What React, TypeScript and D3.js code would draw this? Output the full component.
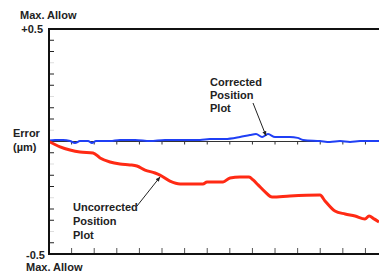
import React from 'react';
import * as d3 from 'd3';

// Position (x in tick units) vs error (µm)
const uncorrected: [number, number][] = [
  [0, 0], [0.49, -0.024], [0.93, -0.038], [1.37, -0.047], [1.95, -0.051],
  [2.26, -0.073], [2.7, -0.091], [3.14, -0.1], [3.58, -0.104], [3.89, -0.109],
  [4.25, -0.127], [4.69, -0.14], [4.91, -0.149], [5.35, -0.176], [5.8, -0.189],
  [6.46, -0.189], [6.81, -0.189], [6.99, -0.18], [7.7, -0.18], [8.01, -0.162],
  [8.45, -0.158], [8.85, -0.158], [9.03, -0.171], [9.25, -0.193], [9.56, -0.224],
  [9.87, -0.247], [10.66, -0.242], [11.99, -0.238], [12.21, -0.264], [12.65, -0.309],
  [13.1, -0.322], [13.54, -0.331], [13.98, -0.344], [14.16, -0.331], [14.38, -0.344],
  [14.6, -0.358],
];

const corrected: [number, number][] = [
  [0, 0.004], [0.27, 0.007], [0.62, 0.007], [0.93, 0.002], [1.15, -0.007],
  [1.37, 0.002], [1.73, 0.002], [1.9, -0.007], [2.08, 0.002], [2.7, 0.002],
  [3.14, 0.007], [3.81, 0.007], [4.47, 0.002], [5.13, 0.007], [5.8, 0.007],
  [6.68, 0.007], [7.12, 0.011], [7.79, 0.011], [8.45, 0.02], [8.89, 0.029],
  [9.16, 0.033], [9.43, 0.02], [9.69, 0.033], [10.0, 0.02], [10.66, 0.02],
  [11.0, 0.016], [11.24, 0.007], [11.99, 0.002], [12.43, -0.002], [12.88, 0.002],
  [13.32, -0.002], [13.76, 0.002], [14.6, 0.002],
];

const xTicks = d3.range(1, 15);
const yTicks = d3.range(-0.45, 0.46, 0.05).map(v => +v.toFixed(2)).filter(v => v !== 0);
const faintTicks = [0.35, 0.2, 0.05, -0.1, -0.25, -0.4];

const W = 379;
const H = 273;
const font = '"Liberation Sans", Arial, sans-serif';

export default function App() {
  const x = d3.scaleLinear().domain([0, 14.6]).range([49, 379]);
  const y = d3.scaleLinear().domain([-0.5, 0.5]).range([254, 29]);
  const line = d3.line<[number, number]>()
    .x(d => x(d[0]))
    .y(d => y(d[1]))
    .curve(d3.curveMonotoneX);

  const labelStyle: React.CSSProperties = { fontFamily: font, fontSize: 11, fontWeight: 'bold', fill: '#222' };

  // annotation anchors (data coordinates)
  const corrTip = [9.6, 0.03];
  const uncTip = [4.91, -0.149];

  return (
    <svg width={W} height={H} style={{ position: 'absolute', left: 0, top: 0, background: '#fff' }}>
      <defs>
        <marker id="arrow" viewBox="0 0 10 10" refX="9" refY="5" markerWidth="5" markerHeight="5" orient="auto">
          <path d="M0,1 L10,5 L0,9 z" fill="#222" />
        </marker>
      </defs>

      {/* y ticks on left axis */}
      {yTicks.map(v => (
        <line key={v} x1={x(0)} x2={x(0) + 5} y1={y(v)} y2={y(v)}
          stroke={faintTicks.includes(v) ? '#ddd' : '#222'} strokeWidth={1} />
      ))}

      {/* x ticks on bottom axis and zero line */}
      {xTicks.map(t => (
        <g key={t}>
          <line x1={x(t)} x2={x(t)} y1={y(-0.5)} y2={y(-0.5) - 6} stroke="#555" strokeWidth={1} />
          <line x1={x(t)} x2={x(t)} y1={y(0)} y2={y(0) + 3} stroke="#333" strokeWidth={1} />
        </g>
      ))}

      {/* zero line */}
      <line x1={x(0)} x2={W} y1={y(0)} y2={y(0)} stroke="#333" strokeWidth={1} />

      <path d={line(corrected) || ''} fill="none" stroke="#1f3ff5" strokeWidth={2} />
      <path d={line(uncorrected) || ''} fill="none" stroke="#ff2a14" strokeWidth={3} />

      {/* frame */}
      <line x1={x(0)} x2={W} y1={y(0.5)} y2={y(0.5)} stroke="#111" strokeWidth={2} />
      <line x1={x(0)} x2={W} y1={y(-0.5)} y2={y(-0.5)} stroke="#111" strokeWidth={2} />
      <line x1={x(0)} x2={x(0)} y1={y(0.5) - 1} y2={y(-0.5) + 1} stroke="#111" strokeWidth={2} />

      {/* annotations */}
      <text x={210} y={86} style={labelStyle}>
        <tspan x={210} dy={0}>Corrected</tspan>
        <tspan x={210} dy={13}>Position</tspan>
        <tspan x={210} dy={13}>Plot</tspan>
      </text>
      <line x1={253} y1={103} x2={x(corrTip[0])} y2={y(corrTip[1]) + 1} stroke="#222" strokeWidth={1} markerEnd="url(#arrow)" />

      <text x={73} y={211} style={labelStyle}>
        <tspan x={73} dy={0}>Uncorrected</tspan>
        <tspan x={73} dy={14}>Position</tspan>
        <tspan x={73} dy={14}>Plot</tspan>
      </text>
      <line x1={137} y1={206} x2={x(uncTip[0])} y2={y(uncTip[1]) + 2} stroke="#222" strokeWidth={1} markerEnd="url(#arrow)" />

      {/* axis labels */}
      <text x={20} y={19} style={labelStyle}>Max. Allow</text>
      <text x={43} y={33} textAnchor="end" style={labelStyle}>+0.5</text>
      <text x={13} y={137} style={labelStyle}>Error</text>
      <text x={13} y={151} style={labelStyle}>(µm)</text>
      <text x={45} y={259} textAnchor="end" style={labelStyle}>-0.5</text>
      <text x={26} y={271} style={labelStyle}>Max. Allow</text>
    </svg>
  );
}
